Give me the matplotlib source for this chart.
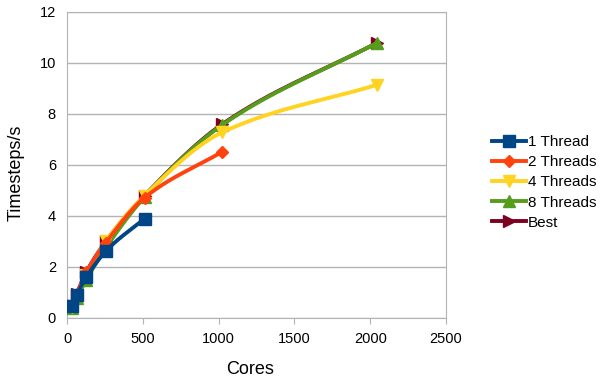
import numpy as np
import matplotlib
matplotlib.use("Agg")
import matplotlib.pyplot as plt

plt.rcParams['font.family'] = ['Liberation Sans', 'DejaVu Sans']

# data
cores = [32, 64, 128, 256, 512, 1024, 2048]
thread1 = [0.47, 0.9, 1.6, 2.62, 3.9]
thread2 = [0.5, 0.95, 1.8, 2.95, 4.72, 6.52]
thread4 = [0.45, 0.85, 1.7, 3.0, 4.8, 7.28, 9.15]
thread8 = [0.38, 0.78, 1.5, 2.75, 4.75, 7.57, 10.8]
best = [0.5, 0.95, 1.8, 3.0, 4.8, 7.6, 10.8]

labels = ['1 Thread', '2 Threads', '4 Threads', '8 Threads', 'Best']
colors = ['#004586', '#ff420e', '#ffd320', '#579d1c', '#7e0021']
markers = ['s', 'D', 'v', '^', '>']
msizes = [8, 6, 8, 8, 8]


def smooth(x, y, n=300):
    # cubic hermite, pchip-style interior tangents, secant at the ends
    x = np.asarray(x, float)
    y = np.asarray(y, float)
    h = np.diff(x)
    d = np.diff(y) / h
    m = np.empty(len(x))
    m[0], m[-1] = d[0], d[-1]
    for i in range(1, len(x) - 1):
        w1 = 2 * h[i] + h[i - 1]
        w2 = h[i] + 2 * h[i - 1]
        m[i] = (w1 + w2) / (w1 / d[i - 1] + w2 / d[i])
    xs = np.linspace(x[0], x[-1], n)
    idx = np.clip(np.searchsorted(x, xs) - 1, 0, len(x) - 2)
    t = (xs - x[idx]) / h[idx]
    ys = (2 * t**3 - 3 * t**2 + 1) * y[idx] + (t**3 - 2 * t**2 + t) * h[idx] * m[idx] \
        + (-2 * t**3 + 3 * t**2) * y[idx + 1] + (t**3 - t**2) * h[idx] * m[idx + 1]
    return xs, ys


fig = plt.figure(figsize=(6.02, 3.84), dpi=100)
ax = fig.add_axes([0.1113, 0.1719, 0.6296, 0.7969])

series = [thread1, thread2, thread4, thread8, best]
zorders = [6, 5, 4, 3, 2]
handles = []
for vals, lab, c, m, ms, z in zip(series, labels, colors, markers, msizes, zorders):
    xs = cores[:len(vals)]
    sx, sy = smooth(xs, vals)
    ax.plot(sx, sy, color=c, lw=2.8, zorder=z, solid_capstyle='round')
    ax.plot(xs, vals, ls='none', marker=m, color=c, ms=ms, zorder=z)
    h, = ax.plot([], [], color=c, lw=2.8, marker=m, ms=ms, label=lab)
    handles.append(h)

ax.set_xlim(0, 2500)
ax.set_ylim(0, 12)
ax.set_xticks(np.arange(0, 2501, 500))
ax.set_yticks(np.arange(0, 13, 2))
ax.grid(axis='y', color='#b3b3b3', lw=1)
ax.set_axisbelow(True)
for s in ax.spines.values():
    s.set_color('#b3b3b3')
ax.tick_params(axis='both', colors='#b3b3b3', labelcolor='black', labelsize=10.5, length=4)
ax.tick_params(axis='x', pad=6)
ax.tick_params(axis='y', length=0, pad=8)
ax.set_xlabel('Cores', fontsize=13)
ax.set_ylabel('Timesteps/s', fontsize=13)
ax.xaxis.set_label_coords(0.483, -0.14)
ax.yaxis.set_label_coords(-0.113, 0.474)

fig.legend(handles=handles, loc='center left', bbox_to_anchor=(0.795, 0.525),
           frameon=False, fontsize=11, handlelength=2.2, handletextpad=0.15,
           labelspacing=0.4)

fig.savefig('out.png', dpi=100)
